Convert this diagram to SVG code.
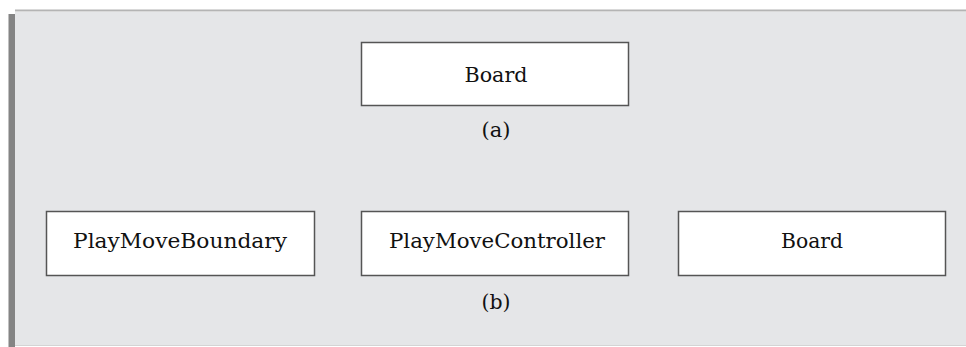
<svg xmlns="http://www.w3.org/2000/svg" width="966" height="347" viewBox="0 0 966 347">
<style>
.box{fill:#ffffff;stroke:#555555;stroke-width:1.5}
.t{font-family:"DejaVu Serif","Liberation Serif",serif;font-size:21px;fill:#111111;text-anchor:middle}
.c{font-family:"DejaVu Serif","Liberation Serif",serif;font-size:21px;fill:#111111;text-anchor:middle}
</style>
<rect x="0" y="0" width="966" height="347" fill="#ffffff"/>
<rect x="15" y="12" width="951" height="333" fill="#e5e6e8"/>
<line x1="15" y1="10.5" x2="966" y2="10.5" stroke="#b4b4b4" stroke-width="2"/>
<line x1="15" y1="345.5" x2="966" y2="345.5" stroke="#d4d4d4" stroke-width="1"/>
<rect x="9" y="14" width="6" height="333" fill="#848484"/>
<rect x="8" y="14" width="1" height="333" fill="#c0c0c0"/>
<g id="board-a">
<rect class="box" x="361.5" y="42.5" width="267" height="63"/>
<text class="t" x="496" y="82" textLength="63" lengthAdjust="spacingAndGlyphs">Board</text>
</g>
<text class="c" x="496" y="137" textLength="29" lengthAdjust="spacingAndGlyphs">(a)</text>
<g id="playmoveboundary">
<rect class="box" x="46.5" y="211.5" width="268" height="64"/>
<text class="t" x="180" y="248" textLength="214" lengthAdjust="spacingAndGlyphs">PlayMoveBoundary</text>
</g>
<g id="playmovecontroller">
<rect class="box" x="361.5" y="211.5" width="267" height="64"/>
<text class="t" x="497" y="248" textLength="216" lengthAdjust="spacingAndGlyphs">PlayMoveController</text>
</g>
<g id="board-b">
<rect class="box" x="678.5" y="211.5" width="267" height="64"/>
<text class="t" x="812" y="248" textLength="62" lengthAdjust="spacingAndGlyphs">Board</text>
</g>
<text class="c" x="496" y="309" textLength="29" lengthAdjust="spacingAndGlyphs">(b)</text>
<g id="connectors"></g>
</svg>
